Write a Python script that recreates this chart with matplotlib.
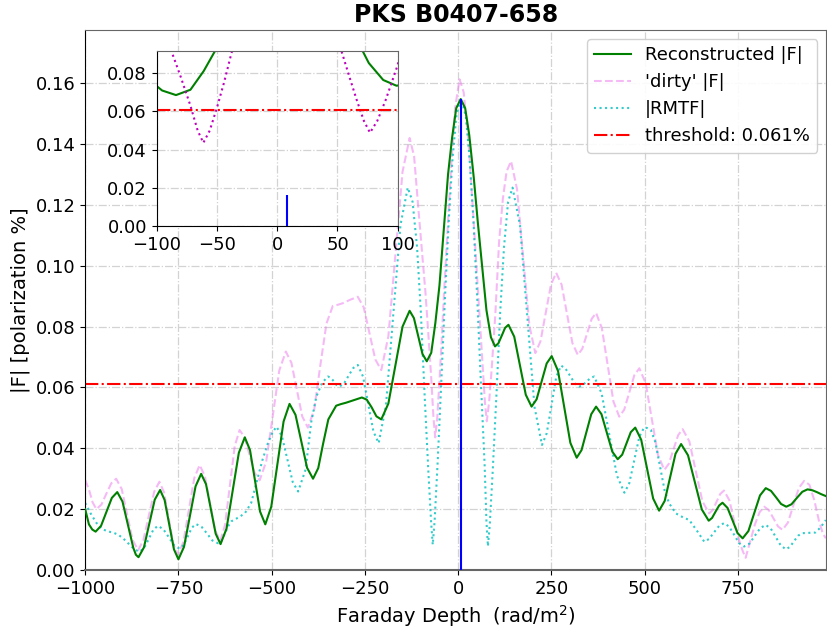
import numpy as np
import matplotlib
matplotlib.use("Agg")
import matplotlib.pyplot as plt

# values (Faraday depth, amplitude)
recon_phi = [-1000, -990, -981, -972, -957.5, -943, -928.5, -914, -900, -885.5, -871,
             -864, -857, -842.5, -828, -813.5, -799, -787, -774.5, -762, -750, -735,
             -719.5, -704, -689, -676, -663, -650, -637, -621, -604.5, -588, -572,
             -558, -544.5, -531, -517, -501, -484.5, -468, -452, -436, -420.5, -405,
             -389, -375, -362, -348, -327, -315, -300, -280, -258, -245, -232, -219,
             -206, -187, -168, -149, -130, -118.5, -107, -95.5, -84, -72, -61, -50,
             -38.5, -27, -16, -5, 7, 19, 30, 42, 53, 65, 76, 88, 99, 108, 117, 126,
             135, 150.5, 166, 181.5, 197, 210.5, 224, 237.5, 251, 268, 284.5, 301,
             318, 331, 344, 357, 370, 384.5, 399, 413.5, 428, 440, 451.5, 463, 475,
             491, 507, 523, 539, 554, 568.5, 583, 598, 616.5, 635, 653.5, 672, 681,
             690.5, 700, 709, 722.5, 736, 749.5, 763, 778.5, 794, 809.5, 825, 839,
             852.5, 866, 880, 894, 908.5, 923, 937, 950, 962, 974, 986]
recon_amp = [0.0200, 0.0150, 0.0133, 0.0126, 0.0145, 0.0191, 0.0237, 0.0256, 0.0225,
             0.0149, 0.0073, 0.0050, 0.0042, 0.0074, 0.0153, 0.0231, 0.0263, 0.0230,
             0.0149, 0.0068, 0.0035, 0.0076, 0.0176, 0.0275, 0.0316, 0.0282, 0.0201,
             0.0119, 0.0085, 0.0136, 0.0261, 0.0385, 0.0436, 0.0394, 0.0293, 0.0192,
             0.0150, 0.0208, 0.0348, 0.0488, 0.0546, 0.0510, 0.0423, 0.0336, 0.0300,
             0.0335, 0.0415, 0.0495, 0.0540, 0.0545, 0.0550, 0.0558, 0.0567, 0.0560,
             0.0535, 0.0505, 0.0495, 0.0547, 0.0674, 0.0800, 0.0852, 0.0828, 0.0769,
             0.0710, 0.0686, 0.0714, 0.0812, 0.0935, 0.1117, 0.1300, 0.1422, 0.1518,
             0.1548, 0.1518, 0.1429, 0.1290, 0.1141, 0.0990, 0.0854, 0.0765, 0.0735,
             0.0745, 0.0770, 0.0796, 0.0806, 0.0767, 0.0672, 0.0576, 0.0537, 0.0561,
             0.0620, 0.0679, 0.0703, 0.0654, 0.0536, 0.0418, 0.0369, 0.0394, 0.0453,
             0.0512, 0.0537, 0.0512, 0.0451, 0.0389, 0.0364, 0.0379, 0.0416, 0.0453,
             0.0468, 0.0428, 0.0332, 0.0235, 0.0195, 0.0227, 0.0305, 0.0382, 0.0414,
             0.0377, 0.0288, 0.0199, 0.0162, 0.0171, 0.0192, 0.0212, 0.0221, 0.0204,
             0.0163, 0.0121, 0.0104, 0.0128, 0.0187, 0.0245, 0.0269, 0.0260, 0.0239,
             0.0217, 0.0208, 0.0216, 0.0237, 0.0257, 0.0265, 0.0262, 0.0256, 0.0249,
             0.0243]

dirty_phi = [-1000, -990, -980, -970, -956.5, -943.5, -930, -917, -902, -887.5, -873,
             -858, -844, -829.5, -815, -801, -788.5, -776, -763.5, -751, -736.5, -722,
             -707.5, -693, -679, -665.5, -652, -638, -625, -612, -599, -586, -572.5,
             -559, -545.5, -532, -514.5, -497, -479.5, -462, -447, -432.5, -418, -403,
             -386, -370, -353, -336, -322, -309, -290, -269, -253, -237.5, -222, -206,
             -187, -168, -149, -130, -118, -106, -95, -87.6, -80, -72, -66, -61.3, -56,
             -50, -44, -38, -28, -18, -8, 4, 15, 27, 40, 53.5, 60, 66, 72, 77, 83, 90,
             99.7, 110, 120, 130, 142, 158, 174.5, 191, 207, 221, 235, 249, 263, 277.5,
             292, 306.5, 321, 333, 345.5, 358, 370, 385.5, 401, 416.5, 432, 445.5, 459,
             472.5, 486, 503, 519.5, 536, 553, 565, 577.5, 590, 602, 620, 637.5, 655,
             673, 683, 693, 703, 713, 727.5, 742, 756.5, 764, 771, 780, 796, 808.5, 821,
             833, 845.5, 858, 870, 884.5, 899, 913.5, 928, 942, 955, 968, 978, 986]
dirty_amp = [0.0296, 0.0265, 0.0222, 0.0200, 0.0215, 0.0250, 0.0285, 0.0300, 0.0266,
             0.0183, 0.0099, 0.0065, 0.0098, 0.0178, 0.0257, 0.0290, 0.0255, 0.0170,
             0.0085, 0.0050, 0.0093, 0.0198, 0.0302, 0.0345, 0.0308, 0.0220, 0.0132,
             0.0095, 0.0148, 0.0278, 0.0407, 0.0460, 0.0436, 0.0378, 0.0319, 0.0295,
             0.0357, 0.0507, 0.0656, 0.0718, 0.0681, 0.0593, 0.0505, 0.0468, 0.0526,
             0.0668, 0.0810, 0.0868, 0.0872, 0.0877, 0.0888, 0.0898, 0.0863, 0.0778,
             0.0692, 0.0657, 0.0768, 0.1039, 0.1309, 0.1420, 0.1360, 0.1180, 0.1020,
             0.0913, 0.0780, 0.0630, 0.0500, 0.0436, 0.0500, 0.0620, 0.0755, 0.0905,
             0.1120, 0.1340, 0.1520, 0.1613, 0.1570, 0.1420, 0.1180, 0.0913, 0.0780,
             0.0660, 0.0550, 0.0489, 0.0550, 0.0660, 0.0838, 0.1080, 0.1220, 0.1310,
             0.1344, 0.1252, 0.1029, 0.0805, 0.0713, 0.0752, 0.0845, 0.0938, 0.0977,
             0.0938, 0.0842, 0.0746, 0.0707, 0.0727, 0.0776, 0.0825, 0.0845, 0.0795,
             0.0675, 0.0554, 0.0504, 0.0527, 0.0584, 0.0640, 0.0663, 0.0614, 0.0496,
             0.0378, 0.0329, 0.0349, 0.0396, 0.0443, 0.0463, 0.0423, 0.0325, 0.0226,
             0.0186, 0.0197, 0.0224, 0.0250, 0.0261, 0.0229, 0.0151, 0.0085, 0.0060,
             0.0040, 0.0080, 0.0150, 0.0190, 0.0208, 0.0197, 0.0170, 0.0143, 0.0132,
             0.0156, 0.0213, 0.0269, 0.0293, 0.0280, 0.0230, 0.0160, 0.0120, 0.0104]

rmtf_phi = [-1000, -985, -970, -955, -940, -925, -910, -895, -880, -866, -854, -842,
            -829.5, -817, -805, -790.5, -776, -761.5, -747, -736, -725, -714, -703,
            -688, -673.5, -659, -644, -635, -626, -617, -608, -590, -572, -555, -541,
            -525, -510, -498, -487, -472.5, -458, -443.5, -429, -409, -394, -380, -365,
            -349, -341, -333, -326, -318, -306, -293.5, -281, -269, -255, -241, -227,
            -213, -193.5, -174, -154.5, -135, -122, -110, -100, -90, -80, -72, -68,
            -63, -55, -45, -35, -25, -15, -5, 8, 21, 31, 41, 51, 61, 71, 76, 80, 85,
            93, 103, 113, 123, 134, 146, 166, 185.5, 205, 225, 237.5, 250.5, 263, 276,
            288, 300.5, 313, 325, 335, 345, 355, 365, 385, 405.5, 426, 446, 459, 472.5,
            486, 499, 508, 517, 529, 541.5, 554, 566, 584, 600, 620, 640, 660, 673,
            686.5, 700, 713, 726.5, 740, 753.5, 767, 781.5, 796, 810.5, 825, 838.5, 852,
            865.5, 879, 890, 901, 912, 923, 940, 958, 972, 986]
rmtf_amp = [0.0220, 0.0185, 0.0155, 0.0135, 0.0127, 0.0123, 0.0115, 0.0100, 0.0082,
            0.0066, 0.0060, 0.0072, 0.0102, 0.0133, 0.0145, 0.0134, 0.0108, 0.0081,
            0.0070, 0.0082, 0.0110, 0.0139, 0.0151, 0.0142, 0.0120, 0.0097, 0.0088,
            0.0095, 0.0118, 0.0143, 0.0160, 0.0172, 0.0186, 0.0220, 0.0285, 0.0360,
            0.0417, 0.0452, 0.0471, 0.0440, 0.0365, 0.0289, 0.0258, 0.0330, 0.0485,
            0.0570, 0.0615, 0.0636, 0.0631, 0.0620, 0.0608, 0.0603, 0.0613, 0.0639,
            0.0664, 0.0674, 0.0636, 0.0546, 0.0455, 0.0417, 0.0540, 0.0837, 0.1134,
            0.1257, 0.1210, 0.1060, 0.0850, 0.0580, 0.0330, 0.0150, 0.0083, 0.0160,
            0.0350, 0.0620, 0.0900, 0.1150, 0.1350, 0.1490, 0.1550, 0.1490, 0.1350,
            0.1150, 0.0900, 0.0620, 0.0350, 0.0160, 0.0078, 0.0150, 0.0330, 0.0580,
            0.0850, 0.1060, 0.1210, 0.1257, 0.1133, 0.0834, 0.0535, 0.0411, 0.0449,
            0.0541, 0.0634, 0.0672, 0.0662, 0.0638, 0.0613, 0.0603, 0.0608, 0.0620,
            0.0631, 0.0636, 0.0580, 0.0445, 0.0310, 0.0254, 0.0285, 0.0362, 0.0438,
            0.0469, 0.0466, 0.0460, 0.0420, 0.0340, 0.0260, 0.0219, 0.0186, 0.0175,
            0.0164, 0.0130, 0.0093, 0.0102, 0.0124, 0.0145, 0.0154, 0.0143, 0.0116,
            0.0088, 0.0077, 0.0087, 0.0113, 0.0138, 0.0148, 0.0136, 0.0108, 0.0080,
            0.0068, 0.0076, 0.0095, 0.0113, 0.0121, 0.0122, 0.0123, 0.0140, 0.0164]

threshold = 0.061
clean_phi = 8
clean_peak = 0.1548
clean_comp = 0.016

fig = plt.figure(figsize=(8.27, 6.28), dpi=100)
ax = fig.add_axes([0.103, 0.0924, 0.896, 0.8598])

ax.plot(recon_phi, recon_amp, color='g', lw=1.5, label='Reconstructed |F|', zorder=4,
        solid_joinstyle='round')
ax.plot(dirty_phi, dirty_amp, color='violet', ls='--', lw=1.5, alpha=0.55, label="'dirty' |F|",
        dash_joinstyle='round')
ax.plot(rmtf_phi, rmtf_amp, color='c', ls=':', lw=1.5, alpha=0.8, label='|RMTF|')
ax.axhline(threshold, color='r', ls='-.', lw=1.5, label='threshold: 0.061%')
ax.vlines(clean_phi, 0, clean_peak, color='b', lw=1.5, zorder=5)

ax.set_xlim(-1000, 987)
ax.set_ylim(0, 0.1775)
ax.set_xticks([-1000, -750, -500, -250, 0, 250, 500, 750])
ax.set_yticks(np.arange(0, 0.17, 0.02))
ax.yaxis.set_major_formatter(matplotlib.ticker.FormatStrFormatter('%.2f'))
ax.tick_params(labelsize=13)
ax.grid(True, ls='-.', color='lightgray', lw=0.9)
ax.set_title('PKS B0407-658', fontsize=17, fontweight='bold')
ax.set_xlabel('Faraday Depth  (rad/m$^2$)', fontsize=14)
ax.set_ylabel('|F| [polarization %]', fontsize=14)
for s in ['top', 'right', 'bottom']:
    ax.spines[s].set_color('#666666')
ax.spines['bottom'].set_linewidth(1.5)
ax.legend(loc='upper right', fontsize=13, framealpha=0.9)

# zoomed inset around the peak
ins = fig.add_axes([0.1895, 0.6401, 0.2914, 0.2787])
ins.plot(recon_phi, recon_amp, color='g', lw=1.5, solid_joinstyle='round')
ins.plot(dirty_phi, dirty_amp, color='m', ls=':', lw=1.5)
ins.axhline(threshold, color='r', ls='-.', lw=1.5)
ins.vlines(clean_phi, 0, clean_comp, color='b', lw=1.5)
ins.set_xlim(-100, 100)
ins.set_ylim(0, 0.0917)
ins.set_xticks([-100, -50, 0, 50, 100])
ins.set_yticks([0, 0.02, 0.04, 0.06, 0.08])
ins.yaxis.set_major_formatter(matplotlib.ticker.FormatStrFormatter('%.2f'))
ins.tick_params(labelsize=13)
ins.grid(True, ls='-.', color='lightgray', lw=0.9)
for s in ['top', 'right']:
    ins.spines[s].set_color('#666666')

fig.savefig('out.png', dpi=100)
